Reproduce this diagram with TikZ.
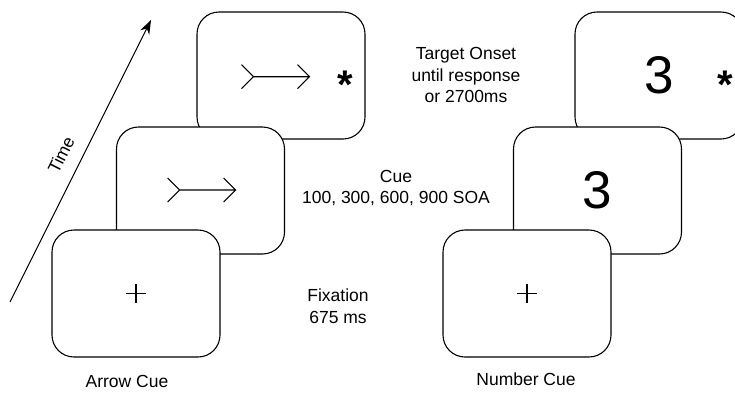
\documentclass[tikz,border=0pt]{standalone}
\usepackage{fontspec}
\setmainfont{Liberation Sans}
\usetikzlibrary{arrows.meta}
\tikzset{
  screen/.style={draw, fill=white, line width=1.1pt, rounded corners=22pt,
    minimum width=168pt, minimum height=127pt, inner sep=0pt,
    font=\fontsize{53}{53}\selectfont},
  lbl/.style={align=center, font=\fontsize{17.5}{21.5}\selectfont},
  ast/.style={anchor=base, inner sep=0pt, font=\fontsize{40}{40}\selectfont\bfseries},
  glyph/.style={line width=1.1pt},
  cuearrow/.pic={\draw[glyph] (-34,-12) -- (-22,0) -- (-34,12) (-22,0) -- (34,0)
    (22,-12) -- (34,0) -- (22,12);},
  fixcross/.pic={\draw[glyph] (-10,0) -- (10,0) (0,-9.5) -- (0,9.5);}
}
\begin{document}
\begin{tikzpicture}[x=1pt,y=-1pt]
  \useasboundingbox (0,0) rectangle (735,392);
  \clip (0,0) rectangle (735,392);

  % time axis
  \coordinate (tstart) at (10,302);
  \coordinate (tend) at (151,20);
  \draw[line width=1pt, -{Stealth[length=14pt,width=10pt]}] (tstart) -- (tend);
  \node[lbl, rotate=63.4, inner sep=0pt] (time) at (61,155) {Time};

  % arrow cue trial
  \node[screen] (atarget) at (281,75.5) {};
  \pic at (275.5,76.7) {cuearrow};
  \node[ast] (astar) at (345,98.5) {*};
  \node[screen] (acue) at (200.5,190.5) {};
  \pic at (201.7,190) {cuearrow};
  \node[screen] (afix) at (136,293.5) {};
  \pic at (afix) {fixcross};
  \node[lbl] (larrow) at (127,381) {Arrow Cue};

  % number cue trial
  \node[screen] (ntarget) at (659,75.5) {3};
  \node[ast] (nstar) at (725,98.5) {*};
  \node[screen] (ncue) at (597.5,190.5) {3};
  \node[screen] (nfix) at (527,293.5) {};
  \pic at (nfix) {fixcross};
  \node[lbl] (lnumber) at (526,379) {Number Cue};

  % timing
  \node[lbl] (ttarget) at (466,75) {Target Onset\\until response\\or 2700ms};
  \node[lbl] (tcue) at (396,188) {Cue\\100, 300, 600, 900 SOA};
  \node[lbl] (tfix) at (338,306) {Fixation\\675 ms};
\end{tikzpicture}
\end{document}
